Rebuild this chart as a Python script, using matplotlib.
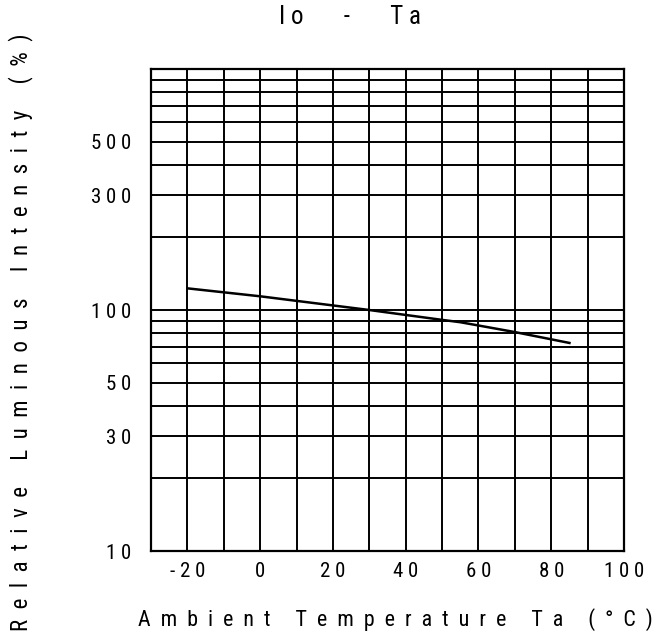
import matplotlib.pyplot as plt
from matplotlib.ticker import FixedLocator, FixedFormatter, NullFormatter

# curve (Ta in degC, Io in %)
temp = [-20, 0, 30, 50, 55, 70, 85]
intensity = [123, 114, 100, 91, 89, 81, 73]

x_ticks = [-20, 0, 20, 40, 60, 80, 100]
y_ticks = [10, 30, 50, 100, 300, 500]
y_grid = [v * m for m in (10, 100) for v in range(1, 10)] + [1000]
x_grid = list(range(-30, 101, 10))

title = "Io - Ta"
xlabel = "Ambient Temperature Ta (°C)"
ylabel = "Relative Luminous Intensity (%)"

def spaced(s, gap=" "):
    return gap.join(s)

font = ["Roboto Condensed", "DejaVu Sans"]

fig = plt.figure(figsize=(6.52, 6.39), dpi=100)
ax = fig.add_axes([0.2316, 0.1377, 0.7255, 0.7543])

ax.plot(temp, intensity, color="black", lw=1.8, zorder=3)
ax.set_yscale("log")
ax.set_xlim(-30, 100)
ax.set_ylim(10, 1000)

ax.xaxis.set_major_locator(FixedLocator(x_ticks))
ax.xaxis.set_major_formatter(FixedFormatter([spaced(str(t)) for t in x_ticks]))
ax.xaxis.set_minor_locator(FixedLocator(x_grid))
ax.yaxis.set_major_locator(FixedLocator(y_ticks))
ax.yaxis.set_major_formatter(FixedFormatter([spaced(str(t)) for t in y_ticks]))
ax.yaxis.set_minor_locator(FixedLocator(y_grid))
ax.yaxis.set_minor_formatter(NullFormatter())

ax.tick_params(which="both", length=0)
ax.tick_params(axis="x", pad=8, labelsize=15)
ax.tick_params(axis="y", pad=14, labelsize=15)
for lab in ax.get_xticklabels() + ax.get_yticklabels():
    lab.set_fontfamily(font)

# every decade subdivision and every 10 degC gets a grid line
for v in x_grid:
    ax.axvline(v, color="black", lw=1.4, zorder=1)
for v in y_grid:
    ax.axhline(v, color="black", lw=1.4, zorder=1)
for s in ax.spines.values():
    s.set_linewidth(1.6)

fig.text(0.537, 0.974, spaced(title).replace(" -", "     -    "),
         ha="center", va="center", fontsize=18, family=font)
fig.text(0.606, 0.03, spaced(xlabel, "  "), ha="center",
         va="center", fontsize=15.8, family=font)
fig.text(0.032, 0.48, spaced(ylabel, "  "), ha="center",
         va="center", rotation=90, fontsize=16.5, family=font)

fig.savefig("out.png", dpi=100, facecolor="white")
